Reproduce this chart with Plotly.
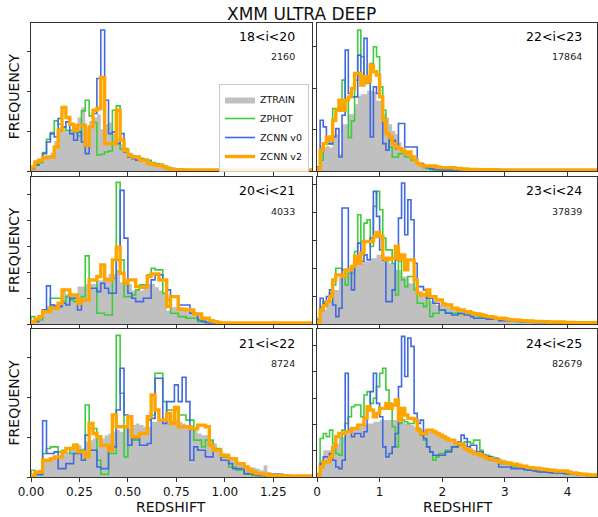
import numpy as np
import plotly.graph_objects as go

# ---------------- data ----------------
BIN_LEFT = 0.02
BIN_RIGHT = 0.05

mag_labels = ["18<i<20", "22<i<23", "20<i<21", "23<i<24", "21<i<22", "24<i<25"]
n_objects = ["2160", "17864", "4033", "37839", "8724", "82679"]
series_names = ["ZTRAIN", "ZPHOT", "ZCNN v0", "ZCNN v2"]

# 18<i<20
ztrain_18_20 = [8,15,25,40,40,55,90,130,125,120,120,140,160,190,130,150,160,170,125,140,145,110,100,80,65,55,45,40,35,30,27,22,18,14,10,7,5,4,4,3,3,2,2,2,3,2,2,2,1,2,2,1,2,1,1,2,1,1,1,1,1,1,1,1,1,1,1,1,1,1,1,1,1]
zphot_18_20 = [12,20,25,55,95,115,150,140,130,122,122,117,105,180,212,165,145,48,50,57,60,182,195,65,67,50,45,42,38,35,32,25,22,20,15,10,7,5,4,3,3,3,3,3,3,3,3,3,3,3,3,3,3,3,3,3,3,3,3,3,3,3,3,3,3,3,3,3,3,3,3,3,3]
zcnn0_18_20 = [7,17,32,52,87,112,102,157,132,147,112,92,117,87,52,132,172,277,422,212,112,117,82,112,57,42,37,32,32,30,25,22,20,17,12,10,7,5,4,4,3,3,3,3,3,3,3,3,3,3,3,3,3,3,3,3,3,3,3,3,3,3,3,3,3,3,3,3,3,3,3,3,3]
zcnn2_18_20 = [12,27,32,40,42,42,72,122,190,160,140,122,137,137,77,132,182,187,280,82,82,82,182,92,62,47,42,42,32,32,22,20,17,17,12,7,5,4,4,3,3,3,3,3,3,3,3,3,3,3,3,3,3,3,3,3,3,3,3,3,3,3,3,3,3,3,3,3,3,3,3,3,3]

# 20<i<21
ztrain_20_21 = [5,15,25,40,55,60,60,65,107,90,90,90,112,112,120,120,120,130,130,140,150,150,162,125,120,120,100,100,100,110,120,120,110,100,90,40,50,52,50,45,37,35,30,25,22,20,15,12,8,6,5,4,4,3,3,3,2,2,2,2,2,2,2,2,2,2,2,2,2,2,2,2,2]
zphot_20_21 = [22,12,12,42,42,77,77,77,67,82,72,67,67,82,204,132,130,32,32,27,27,137,424,192,82,82,87,102,117,117,147,167,162,162,92,72,32,32,22,22,17,17,17,7,7,4,4,3,3,3,3,3,3,3,3,3,3,3,3,3,3,3,3,3,3,3,3,3,3,3,3,3,3]
zcnn0_20_21 = [7,7,22,42,114,57,52,52,62,57,77,77,42,72,72,107,107,97,122,107,92,92,192,400,257,92,77,67,67,77,77,132,147,147,132,102,82,82,57,57,57,32,32,12,8,5,3,3,3,3,3,3,3,3,3,3,3,3,3,3,3,3,3,3,3,3,3,3,3,3,3,3,3]
zcnn2_20_21 = [7,15,22,37,37,47,47,62,102,102,87,87,62,72,72,132,132,142,177,132,132,192,230,152,122,132,132,112,110,110,142,150,150,132,132,52,82,82,44,44,42,42,30,30,17,17,10,7,5,3,3,3,3,3,3,3,3,3,3,3,3,3,3,3,3,3,3,3,3,3,3,3,3]

# 21<i<22
ztrain_21_22 = [5,10,20,50,50,55,60,60,80,75,85,100,95,85,105,110,115,120,115,125,130,135,140,135,150,145,155,160,155,150,150,165,165,170,175,180,170,172,165,160,150,155,140,130,125,125,110,100,85,70,65,60,55,45,40,35,30,28,25,20,35,15,12,12,10,8,7,6,5,5,4,4,3]
zphot_21_22 = [20,8,8,70,85,90,90,75,80,85,70,70,80,80,215,145,145,50,8,8,70,70,423,250,60,95,110,110,130,130,170,185,310,310,225,200,200,200,185,185,170,170,110,110,90,110,110,85,85,60,60,30,30,20,20,8,8,5,5,4,3,3,3,3,3,3,3,3,3,3,3,3,3]
zcnn0_21_22 = [7,7,7,168,70,70,75,25,25,40,40,70,70,50,125,80,80,30,25,25,90,90,200,325,185,95,115,115,95,95,100,175,295,295,160,225,225,275,225,298,225,50,90,80,80,60,60,80,80,50,50,40,25,25,25,10,10,8,5,5,5,8,8,8,8,5,4,3,3,3,3,3,3]
zcnn2_21_22 = [5,15,15,50,50,55,60,60,75,85,85,95,75,75,60,160,130,120,95,95,80,185,150,150,150,180,120,120,130,130,180,245,200,170,170,190,160,208,150,150,150,145,145,155,155,150,95,80,80,65,65,55,55,40,40,30,20,15,10,10,8,6,5,5,4,4,3,3,3,3,3,3,3]

# 22<i<23
ztrain_22_23 = [12,75,72,75,70,110,110,50,140,140,170,170,200,225,230,230,240,240,237,210,210,170,160,140,120,110,85,70,60,50,40,35,27,22,18,15,12,10,8,7,6,5,5,5,4,4,4,4,4,4,4,3,3,3,3,3,3,3,3,3,3,3,3,3,3,3,3,3,3,3,3,3,3,3,3,3,3,3,3,3,3,3,3,3,3,3,3,3,3,3]
zphot_22_23 = [12,32,82,92,80,187,187,182,272,212,100,150,272,422,342,262,262,322,372,342,252,182,112,72,42,42,52,52,42,42,32,32,22,14,10,7,5,4,3,3,3,3,3,3,3,3,3,3,3,3,3,3,3,3,3,3,3,3,3,3,3,3,3,3,3,3,3,3,3,3,3,3,3,3,3,3,3,3,3,3,3,3,3,3,3,3,3,3,3,3]
zcnn0_22_23 = [12,152,132,82,82,102,127,42,167,362,232,222,222,347,282,397,267,102,252,232,222,82,62,92,92,67,142,142,72,72,72,72,22,22,12,10,7,5,4,3,3,3,3,3,3,3,3,3,3,3,3,3,3,3,3,3,3,3,3,3,3,3,3,3,3,3,3,3,3,3,3,3,3,3,3,3,3,3,3,3,3,3,3,3,3,3,3,3,3,3]
zcnn2_22_23 = [7,62,82,102,92,152,182,212,182,212,222,247,292,292,257,282,267,317,297,287,222,152,112,102,82,72,67,62,52,57,42,32,22,17,15,15,15,15,12,10,10,10,10,10,8,8,6,6,5,5,5,4,4,4,4,4,4,4,3,3,3,3,3,3,3,3,3,3,3,3,3,3,3,3,3,3,3,3,3,3,3,3,3,3,3,3,3,3,3,3]

# 23<i<24
ztrain_23_24 = [22,42,42,72,72,102,102,142,142,162,162,177,177,182,182,187,187,197,197,207,207,197,197,182,182,162,162,142,142,122,122,110,97,97,82,82,67,67,57,57,55,52,52,50,47,47,45,42,40,37,35,32,32,28,26,24,22,20,18,17,16,14,13,12,12,11,10,10,9,9,9,8,8,8,7,7,7,7,6,6,6,5,5,5,4,4,4,4,4,4]
zphot_23_24 = [12,50,67,67,92,117,167,167,162,117,152,152,217,327,247,302,312,232,352,397,342,257,222,222,182,87,187,132,112,142,142,102,62,62,52,77,22,32,32,42,42,34,34,32,32,30,30,34,34,32,32,25,22,20,17,17,17,15,12,12,12,10,10,9,8,7,7,6,6,6,5,5,5,5,5,4,4,4,4,4,4,4,4,4,4,4,4,4,4,4]
zcnn0_23_24 = [12,77,62,82,102,57,22,47,347,347,162,102,182,242,187,207,192,257,397,322,222,192,67,67,102,192,317,422,267,372,312,182,112,112,102,77,77,62,62,42,42,32,32,27,27,32,32,27,27,22,17,17,17,17,14,14,14,14,10,10,10,10,10,9,8,7,7,6,6,5,5,5,5,5,5,5,4,4,4,4,4,4,4,4,4,4,4,4,4,4]
zcnn2_23_24 = [7,42,55,67,82,132,147,147,142,162,162,172,202,182,212,247,247,247,262,274,262,197,192,197,197,232,192,207,162,192,192,132,92,87,87,102,82,82,72,72,60,57,57,47,47,42,42,37,37,33,30,30,28,25,22,22,20,17,17,17,15,13,12,12,11,10,10,9,9,8,8,8,7,7,6,6,6,6,6,5,5,5,4,4,4,4,4,4,4,4]

# 24<i<25
ztrain_24_25 = [10,50,80,80,80,100,100,120,120,130,130,140,140,150,150,155,160,160,165,165,170,170,170,170,170,170,165,165,160,160,155,150,150,140,140,135,135,130,130,125,120,115,110,105,100,100,97,95,88,85,80,75,72,70,67,65,62,60,55,52,48,45,42,40,38,35,34,32,30,29,27,26,25,23,22,21,20,19,18,16,15,14,13,12,11,10,9,9,8,8]
zphot_24_25 = [10,115,130,120,140,100,70,65,140,160,180,210,215,215,180,245,255,220,235,270,310,325,260,220,150,90,160,170,165,160,160,170,145,125,110,90,75,50,60,70,70,80,80,90,90,100,100,105,105,100,110,110,80,65,65,50,50,50,40,40,40,40,30,30,30,30,25,22,22,22,18,15,15,15,14,12,12,12,12,10,10,8,8,8,7,7,6,6,5,5]
zcnn0_24_25 = [5,40,60,60,70,50,30,25,50,310,140,120,130,130,120,135,200,255,310,220,180,90,60,70,90,130,270,420,300,415,390,190,160,170,115,90,75,65,65,65,65,75,75,90,90,105,125,115,90,95,95,75,75,65,60,60,55,55,30,30,30,30,25,25,25,25,22,20,20,18,16,15,15,14,13,12,12,12,11,10,9,8,8,7,6,6,5,5,5,5]
zcnn2_24_25 = [5,30,45,45,60,90,120,130,130,135,135,145,145,155,155,175,210,200,180,190,205,205,220,205,215,230,170,205,185,175,175,170,140,130,130,140,140,135,130,125,120,115,110,110,100,100,95,85,80,75,70,70,65,60,55,55,50,50,45,45,42,42,38,38,35,32,32,28,28,26,26,24,23,22,20,20,18,18,18,18,15,12,12,10,8,8,7,6,6,6]

panel_series = [
    (ztrain_18_20, zphot_18_20, zcnn0_18_20, zcnn2_18_20),
    (ztrain_22_23, zphot_22_23, zcnn0_22_23, zcnn2_22_23),
    (ztrain_20_21, zphot_20_21, zcnn0_20_21, zcnn2_20_21),
    (ztrain_23_24, zphot_23_24, zcnn0_23_24, zcnn2_23_24),
    (ztrain_21_22, zphot_21_22, zcnn0_21_22, zcnn2_21_22),
    (ztrain_24_25, zphot_24_25, zcnn0_24_25, zcnn2_24_25),
]

# ---------------- layout / style ----------------
W, H = 598, 517
FONT = "DejaVu Sans"
C_TRAIN = "#c0c0c0"
C_PHOT = "#3ccc3c"
C_V0 = "#4169e1"
C_V2 = "#ffa500"
AX = "#333333"

x_dom = {"L": [31 / W, 312 / W], "R": [317 / W, 597 / W]}
row_px = [(22.7, 171.0), (177.0, 324.0), (329.0, 477.0)]
y_ranges = [444, 444, 440, 440, 442, 442]
y_dticks = [119, 124, 77.5, 83.5, 119, 78.4]


def step_xy(vals, bw):
    v = np.asarray(vals, dtype=float)
    edges = np.arange(len(v) + 1) * bw
    x = np.concatenate([[edges[0]], edges, [edges[-1]]])
    y = np.concatenate([[0.0], v, [v[-1]], [0.0]])
    return x, y


fig = go.Figure()
for p, series in enumerate(panel_series):
    col = "L" if p % 2 == 0 else "R"
    bw = BIN_LEFT if col == "L" else BIN_RIGHT
    ax = "" if p == 0 else str(p + 1)
    show = p == 0
    styles = [
        dict(line=dict(width=0, color=C_TRAIN, shape="hv"), fill="tozeroy", fillcolor=C_TRAIN),
        dict(line=dict(width=1.6, color=C_PHOT, shape="hv")),
        dict(line=dict(width=1.6, color=C_V0, shape="hv")),
        dict(line=dict(width=3.4, color=C_V2, shape="hv")),
    ]
    for name, vals, st in zip(series_names, series, styles):
        x, y = step_xy(vals, bw)
        fig.add_trace(go.Scatter(x=x, y=y, mode="lines", name=name, showlegend=show,
                                 xaxis="x" + ax, yaxis="y" + ax, hoverinfo="skip", **st))

    r = p // 2
    top, bot = row_px[r]
    xa = dict(domain=x_dom[col], anchor="y" + ax, showgrid=False, zeroline=False,
              showline=True, mirror=True, linecolor=AX, linewidth=1, automargin=False,
              ticks="outside", ticklen=3.5, tickcolor=AX,
              tickfont=dict(family=FONT, size=12, color="#111"),
              showticklabels=(r == 2))
    if col == "L":
        xa.update(range=[0, 1.45], dtick=0.25, tick0=0, tickformat=".2f")
    else:
        xa.update(range=[0, 4.47], dtick=1, tick0=0)
    ya = dict(domain=[1 - bot / H, 1 - top / H], anchor="x" + ax, range=[0, y_ranges[p]],
              showgrid=False, zeroline=False, showline=True, mirror=True, linecolor=AX,
              linewidth=1, ticks="outside", ticklen=3.5, tickcolor=AX, automargin=False,
              dtick=y_dticks[p], tick0=0, showticklabels=False)
    fig.layout["xaxis" + ax] = xa
    fig.layout["yaxis" + ax] = ya

    xr = (297 if col == "L" else 583.5) / W
    fig.add_annotation(text=mag_labels[p], xref="paper", yref="paper", x=xr, y=1 - (top + 14) / H,
                       xanchor="right", yanchor="middle", showarrow=False,
                       font=dict(family=FONT, size=12.5, color="#000"))
    fig.add_annotation(text=n_objects[p], xref="paper", yref="paper", x=xr, y=1 - (top + 34) / H,
                       xanchor="right", yanchor="middle", showarrow=False,
                       font=dict(family=FONT, size=9.5, color="#222"))

# axis titles and figure title
for top, bot in row_px:
    fig.add_annotation(text="FREQUENCY", xref="paper", yref="paper", x=13.5 / W,
                       y=1 - (top + bot) / 2 / H, textangle=-90, showarrow=False,
                       xanchor="center", yanchor="middle",
                       font=dict(family=FONT, size=14, color="#111"))
for xc in (171, 458):
    fig.add_annotation(text="REDSHIFT", xref="paper", yref="paper", x=xc / W, y=1 - 506.5 / H,
                       showarrow=False, xanchor="center", yanchor="middle",
                       font=dict(family=FONT, size=14, color="#111"))
fig.add_annotation(text="XMM ULTRA DEEP", xref="paper", yref="paper", x=301 / W, y=1 - 14 / H,
                   showarrow=False, xanchor="center", yanchor="middle",
                   font=dict(family=FONT, size=17, color="#111"))

fig.update_layout(
    width=W, height=H, margin=dict(l=0, r=0, t=0, b=0, autoexpand=False),
    paper_bgcolor="white", plot_bgcolor="white",
    showlegend=True,
    legend=dict(x=309 / W, y=1 - 84 / H, xanchor="right", yanchor="top",
                bgcolor="rgba(255,255,255,0.85)", bordercolor="#cccccc", borderwidth=1,
                font=dict(family=FONT, size=9.5, color="#111"),
                itemwidth=30, tracegroupgap=0),
)

fig.write_html("out.html")
